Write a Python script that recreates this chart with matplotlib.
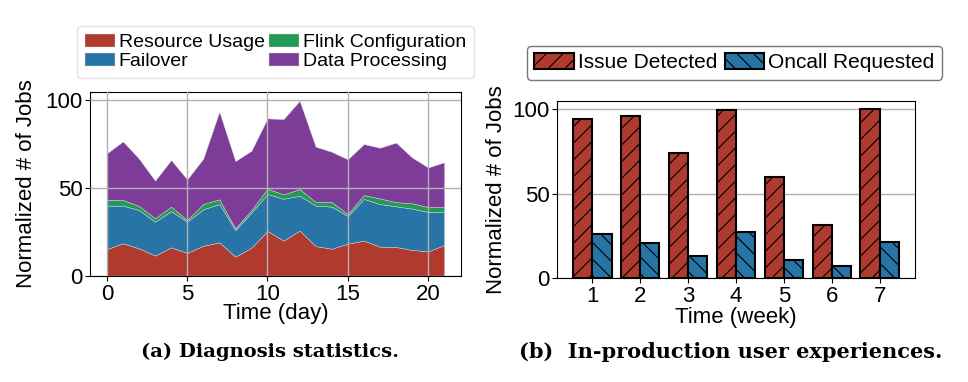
import matplotlib
matplotlib.use("Agg")
import matplotlib.pyplot as plt
import numpy as np

plt.rcParams['font.family'] = ['Liberation Sans', 'DejaVu Sans']
plt.rcParams['hatch.linewidth'] = 0.8

# ---- Data: (a) Diagnosis statistics ----
days = list(range(22))
resource_usage = [15.3, 18.6, 15.7, 11.6, 16.3, 13.1, 17.2, 19.1, 11.0, 16.1, 25.6,
                  20.1, 25.8, 17.0, 15.5, 18.4, 20.1, 16.7, 16.5, 14.8, 14.0, 17.6]
failover = [24.7, 21.4, 21.8, 19.3, 20.6, 17.8, 20.7, 21.8, 15.1, 19.9, 21.0,
            23.8, 19.8, 23.0, 23.9, 15.7, 23.7, 24.2, 23.1, 23.5, 22.4, 18.6]
flink_configuration = [3.2, 3.2, 2.3, 1.9, 2.5, 0.9, 3.0, 2.7, 1.0, 1.5, 3.0,
                       2.5, 3.8, 2.0, 2.6, 1.1, 2.2, 3.2, 2.4, 3.0, 2.8, 3.0]
data_processing = [26.5, 33.3, 26.9, 21.4, 26.5, 23.1, 25.8, 49.8, 38.2, 33.7, 40.0,
                   42.8, 50.2, 31.5, 28.6, 31.1, 29.0, 28.8, 33.8, 26.1, 22.5, 25.4]
stack_labels = ['Resource Usage', 'Failover', 'Flink Configuration', 'Data Processing']

# ---- Data: (b) In-production user experiences ----
weeks = [1, 2, 3, 4, 5, 6, 7]
issue_detected = [94.1, 96.2, 74.3, 99.6, 60.1, 31.2, 100.0]
oncall_requested = [26.3, 20.9, 13.2, 27.1, 10.9, 7.3, 21.1]

RED = '#B03A2E'
BLUE = '#2874A6'
GREEN = '#229954'
PURPLE = '#7D3C98'

W, H = 968, 382
fig = plt.figure(figsize=(W / 100, H / 100), dpi=100)

def rect(x0, y0, x1, y1):
    return [x0 / W, 1 - y1 / H, (x1 - x0) / W, (y1 - y0) / H]

FS = 16

# ---- Left axes ----
ax1 = fig.add_axes(rect(90, 92, 461, 276))
ax1.stackplot(days, resource_usage, failover, flink_configuration, data_processing,
              colors=[RED, BLUE, GREEN, PURPLE], labels=stack_labels,
              edgecolor='#dddddd', linewidth=0.3)
ax1.grid(True, color='#b0b0b0', linewidth=1.0)
ax1.set_axisbelow(False)
ax1.set_xticks([0, 5, 10, 15, 20])
ax1.set_yticks([0, 50, 100])
ax1.tick_params(labelsize=FS, pad=2)
ax1.set_xlabel('Time (day)', fontsize=FS, labelpad=-1)
ax1.set_ylabel('Normalized # of Jobs', fontsize=FS)
ax1.yaxis.set_label_coords((37 - 90) / 371, 0.5)
leg1 = ax1.legend(loc='upper left', bbox_to_anchor=(77 / W, 1 - 26 / H),
                  bbox_transform=fig.transFigure, borderaxespad=0, ncol=2,
                  fontsize=14, handlelength=1.55, handleheight=0.65,
                  handletextpad=0.2, columnspacing=0.2, labelspacing=0.1,
                  borderpad=0.4, frameon=True, fancybox=True)
leg1.get_frame().set_edgecolor('#dddddd')

# ---- Right axes ----
ax2 = fig.add_axes(rect(557, 101, 915, 278))
x = np.array(weeks)
bw = 0.4
ax2.bar(x - bw / 2, issue_detected, bw, color=RED, edgecolor='black', linewidth=1.5,
        hatch='//', label='Issue Detected')
ax2.bar(x + bw / 2, oncall_requested, bw, color=BLUE, edgecolor='black', linewidth=1.5,
        hatch='\\\\', label='Oncall Requested')
ax2.set_axisbelow(True)
ax2.yaxis.grid(True, color='#b0b0b0', linewidth=1.0)
ax2.set_xticks(weeks)
ax2.set_yticks([0, 50, 100])
ax2.tick_params(labelsize=FS, pad=2)
ax2.set_xlabel('Time (week)', fontsize=FS, labelpad=0)
ax2.set_ylabel('Normalized # of Jobs', fontsize=FS)
ax2.yaxis.set_label_coords((507 - 557) / 358, 0.5)
leg2 = ax2.legend(loc='upper left', bbox_to_anchor=(527 / W, 1 - 46 / H),
                  bbox_transform=fig.transFigure, borderaxespad=0, ncol=2,
                  fontsize=15, handlelength=1.9, handleheight=0.75,
                  handletextpad=0.2, columnspacing=0.35, borderpad=0.35,
                  frameon=True, fancybox=True)
leg2.get_frame().set_edgecolor('#555555')
leg2.get_frame().set_linewidth(1.0)

# ---- Captions ----
cap_font = ['DejaVu Serif', 'Liberation Serif']
fig.text(270 / W, 1 - 352 / H, '(a) Diagnosis statistics.', ha='center', va='center',
         fontsize=14, fontweight='bold', family=cap_font)
fig.text(731 / W, 1 - 352 / H, '(b)  In-production user experiences.', ha='center', va='center',
         fontsize=15, fontweight='bold', family=cap_font)

fig.savefig('out.png', dpi=100)
